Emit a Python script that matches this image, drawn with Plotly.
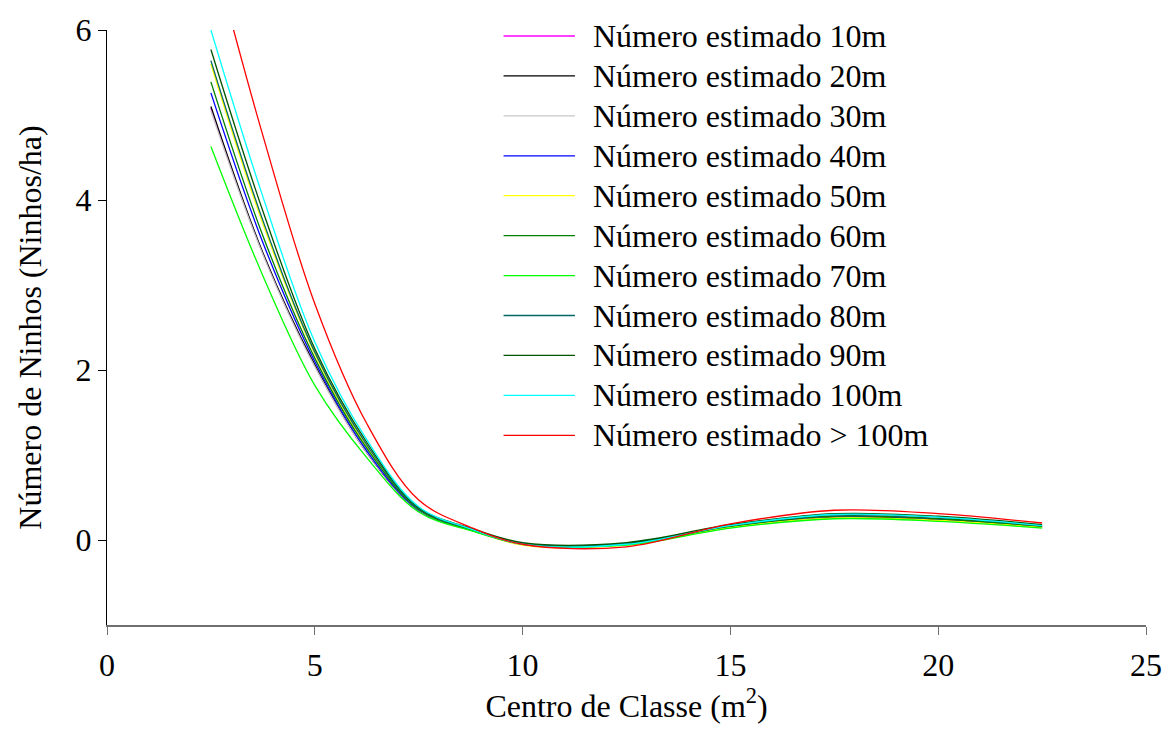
import plotly.graph_objects as go

x_centros = [2.5, 3.75, 5, 6.25, 7.5, 8.75, 10, 12.5, 15, 17.5, 20, 22.5]

nomes = ["Número estimado 10m", "Número estimado 20m", "Número estimado 30m",
         "Número estimado 40m", "Número estimado 50m", "Número estimado 60m",
         "Número estimado 70m", "Número estimado 80m", "Número estimado 90m",
         "Número estimado 100m", "Número estimado > 100m"]

est_10m = [5.08, 3.37, 2.05, 1.03, 0.35, 0.12, -0.04, -0.05, 0.15, 0.27, 0.24, 0.15]
est_20m = [5.10, 3.38, 2.06, 1.03, 0.35, 0.12, -0.04, -0.05, 0.15, 0.27, 0.24, 0.15]
est_30m = [5.05, 3.36, 2.04, 1.03, 0.35, 0.12, -0.04, -0.05, 0.15, 0.28, 0.25, 0.16]
est_40m = [5.26, 3.50, 2.10, 1.05, 0.35, 0.12, -0.05, -0.05, 0.16, 0.28, 0.25, 0.16]
est_50m = [5.60, 3.72, 2.19, 1.10, 0.36, 0.12, -0.06, -0.06, 0.15, 0.26, 0.23, 0.15]
est_60m = [5.39, 3.58, 2.14, 1.08, 0.36, 0.12, -0.05, -0.05, 0.16, 0.28, 0.25, 0.16]
est_70m = [4.63, 3.11, 1.82, 0.97, 0.33, 0.11, -0.04, -0.06, 0.14, 0.25, 0.22, 0.14]
est_80m = [5.64, 3.76, 2.21, 1.12, 0.37, 0.13, -0.04, -0.04, 0.17, 0.30, 0.27, 0.17]
est_90m = [5.77, 3.87, 2.25, 1.15, 0.38, 0.14, -0.03, -0.03, 0.18, 0.31, 0.28, 0.18]
est_100m = [6.00, 4.04, 2.33, 1.18, 0.39, 0.13, -0.05, -0.05, 0.17, 0.30, 0.27, 0.17]
est_mais100m = [7.00, 4.76, 2.78, 1.37, 0.47, 0.15, -0.05, -0.08, 0.19, 0.35, 0.31, 0.20]

series = [est_10m, est_20m, est_30m, est_40m, est_50m, est_60m,
          est_70m, est_80m, est_90m, est_100m, est_mais100m]
cores = ["#FF00FF", "#000000", "#C8C8C8", "#0000FF", "#FFFF00", "#008000",
         "#00FF00", "#006666", "#005500", "#00FFFF", "#FF0000"]

x_ticks = [0, 5, 10, 15, 20, 25]
y_ticks = [0, 2, 4, 6]

FONT = "Liberation Serif"
FS = 32

fig = go.Figure()
for nome, ys, cor in zip(nomes, series, cores):
    fig.add_trace(go.Scatter(
        x=x_centros, y=ys, name=nome, mode="lines",
        line=dict(color=cor, width=1.3, shape="spline", smoothing=1.0),
        showlegend=False,
    ))

# Legend drawn as line samples + text (paper coordinates of the plot area)
W, H, L, T, R, B = 1174, 751, 107, 29, 19, 126
PW, PH = W - L - R, H - T - B
for k, (nome, cor) in enumerate(zip(nomes, cores)):
    ypx = 35 + 40 * k
    yp = (H - B - ypx) / PH
    fig.add_shape(type="line", xref="paper", yref="paper",
                  x0=(507 - L) / PW, x1=(579 - L) / PW, y0=yp, y1=yp,
                  line=dict(color=cor, width=1.3))
    fig.add_annotation(xref="paper", yref="paper", x=(595 - L) / PW, y=yp,
                       xanchor="left", yanchor="middle", text=nome,
                       showarrow=False, font=dict(family=FONT, size=FS, color="black"))

fig.update_layout(
    width=W, height=H,
    margin=dict(l=L, r=R, t=T, b=B),
    paper_bgcolor="white", plot_bgcolor="white",
    font=dict(family=FONT, size=FS, color="black"),
    showlegend=False,
    xaxis=dict(range=[0, 25], tickvals=x_ticks, showgrid=False, zeroline=False,
               showline=True, linecolor="#707070", linewidth=2,
               ticks="outside", ticklen=8, tickcolor="#707070",
               ticklabelstandoff=3,
               tickfont=dict(size=FS, family=FONT),
               title=dict(text="Centro de Classe (m<sup>2</sup>)", standoff=10,
                          font=dict(size=FS, family=FONT))),
    yaxis=dict(range=[-1, 6], tickvals=y_ticks, showgrid=False, zeroline=False,
               showline=True, linecolor="black", linewidth=1,
               ticks="outside", ticklen=8, tickcolor="black",
               tickfont=dict(size=FS, family=FONT),
               title=dict(text="Número de Ninhos (Ninhos/ha)", standoff=24,
                          font=dict(size=FS, family=FONT))),
)

fig.write_html("out.html")
